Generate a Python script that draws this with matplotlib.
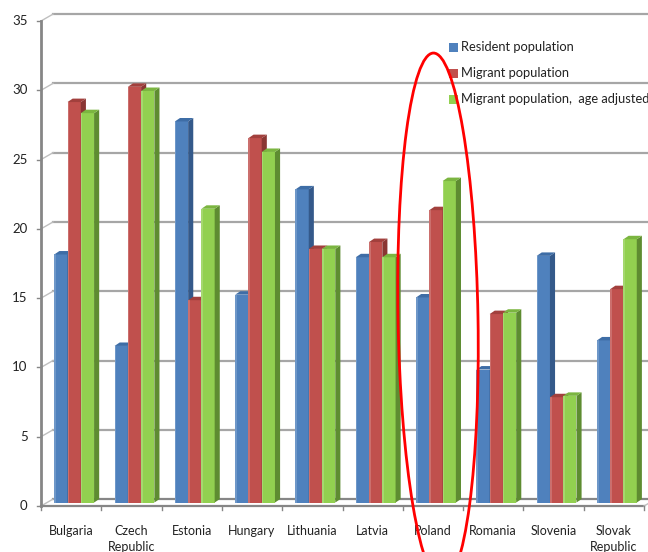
import matplotlib
matplotlib.use("Agg")
import matplotlib.pyplot as plt
from matplotlib.patches import Polygon, Rectangle, Ellipse
from matplotlib.transforms import IdentityTransform

plt.rcParams['font.family'] = ['Lato', 'DejaVu Sans']

countries = ["Bulgaria", "Czech\nRepublic", "Estonia", "Hungary", "Lithuania",
             "Latvia", "Poland", "Romania", "Slovenia", "Slovak\nRepublic"]
resident = [17.9, 11.3, 27.5, 15.0, 22.6, 17.7, 14.8, 9.6, 17.8, 11.7]
migrant = [28.9, 30.0, 14.6, 26.3, 18.3, 18.8, 21.1, 13.6, 7.6, 15.4]
migrant_adj = [28.1, 29.7, 21.2, 25.3, 18.3, 17.7, 23.2, 13.7, 7.7, 19.0]
series_names = ["Resident population", "Migrant population",
                "Migrant population,  age adjusted"]
yticks = [0, 5, 10, 15, 20, 25, 30, 35]

# front, side, top colours for each series
front_cols = ["#4F81BD", "#C0504D", "#92D050"]
side_cols = ["#34598A", "#8A3633", "#5E8C31"]
top_cols = ["#3E6DA6", "#A2403D", "#7BB540"]

W, H = 648, 552
fig = plt.figure(figsize=(W / 100, H / 100), dpi=100)
ax = fig.add_axes([41 / W, 46 / H, 603 / W, 485 / H])
ax.set_xlim(-0.5, 9.5)
ax.set_ylim(0, 35)
ax.axis('off')

# depth of the back wall and of each bar, in data units
wall_dx, wall_dy = 0.2, 0.5
bar_dx, bar_dy = 0.085, 0.25
base = 0.25
bw = 0.22
shift = 0.05

grid_c = "#A6A6A6"
axis_c = "#868686"

# back wall gridlines with the diagonal run to the front axis
for v in yticks:
    ax.plot([-0.5 + wall_dx, 9.5 + wall_dx], [v + wall_dy, v + wall_dy],
            color=grid_c if v else axis_c, lw=1.6, clip_on=False, zorder=1)
    ax.plot([-0.5, -0.5 + wall_dx], [v, v + wall_dy], color="#BFBFBF",
            lw=1.0, clip_on=False, zorder=1)
    ax.plot([-0.56, -0.5], [v, v], color=axis_c, lw=1.0, clip_on=False, zorder=1)
    ax.text(-0.72, v, str(v), ha='right', va='center', fontsize=9.5, color="#222222")

# front axis and floor edges
ax.plot([-0.5, -0.5], [0, 35], color=axis_c, lw=2.0, clip_on=False, zorder=2)
ax.plot([-0.5, 9.5], [0, 0], color=axis_c, lw=1.6, clip_on=False, zorder=2)
ax.plot([9.5, 9.5 + wall_dx], [0, wall_dy], color="#BFBFBF", lw=1.0,
        clip_on=False, zorder=2)
for k in range(11):
    ax.plot([-0.5 + k, -0.5 + k], [0, -0.3], color=axis_c, lw=1.0,
            clip_on=False, zorder=2)

# bars: front face via ax.bar, then side and top faces
for s, vals in enumerate([resident, migrant, migrant_adj]):
    xs = [i + shift + (s - 1) * bw for i in range(len(vals))]
    ax.bar(xs, vals, width=bw, bottom=base, color=front_cols[s],
           edgecolor='none', zorder=5 + s)
    for x, v in zip(xs, vals):
        xl, xr = x - bw / 2, x + bw / 2
        top = base + v
        ax.add_patch(Polygon([(xr, base), (xr + bar_dx, base + bar_dy),
                              (xr + bar_dx, top + bar_dy), (xr, top)],
                             closed=True, facecolor=side_cols[s],
                             edgecolor='none', zorder=5 + s))
        ax.add_patch(Polygon([(xl, top), (xl + bar_dx, top + bar_dy),
                              (xr + bar_dx, top + bar_dy), (xr, top)],
                             closed=True, facecolor=top_cols[s],
                             edgecolor='none', zorder=5 + s))
        # soft highlight along the left edge of the front face
        ax.add_patch(Rectangle((xl, base), bw * 0.12, v, facecolor='white',
                               alpha=0.18, edgecolor='none', zorder=5 + s))

# category labels
for i, name in enumerate(countries):
    ax.text(i, -1.35, name, ha='center', va='top', fontsize=9,
            color="#222222", linespacing=1.4)

# legend
leg_y = [47, 73, 99]
for s, name in enumerate(series_names):
    y = H - leg_y[s]
    fig.add_artist(Rectangle((449, y - 4.5), 9, 9, facecolor=front_cols[s],
                             edgecolor='none', transform=IdentityTransform()))
    fig.text(461 / W, y / H, name, ha='left', va='center', fontsize=9.3,
             color="#222222")

# red ellipse highlighting Poland
fig.add_artist(Ellipse((438, H - 318), 80, 530, angle=1.0, fill=False,
                       edgecolor="#FF0000", lw=2.0, transform=IdentityTransform(),
                       zorder=20))

fig.savefig("out.png", dpi=100)
